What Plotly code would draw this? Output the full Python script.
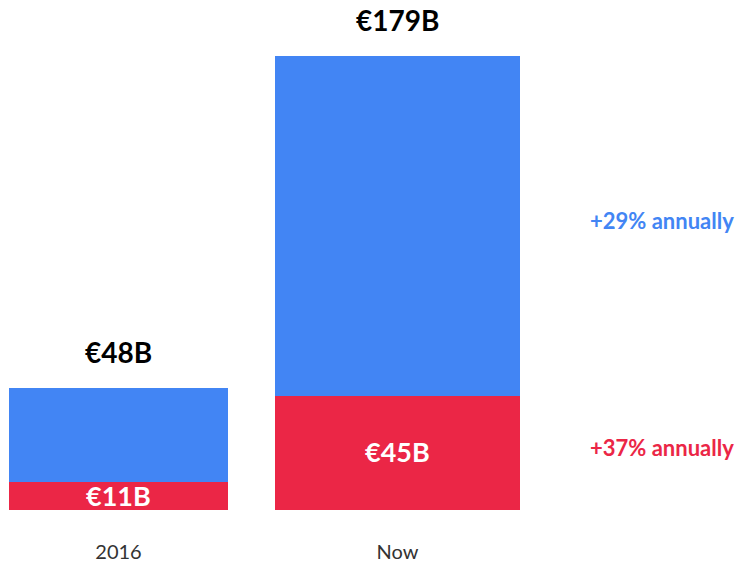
import plotly.graph_objects as go

# Data
periods = ["2016", "Now"]
red_values = [11, 45]          # €B, lower segment
blue_values = [37, 134]        # €B, upper segment (total - red)
totals = [48, 179]
growth_labels = ["+29% annually", "+37% annually"]

BLUE = "#4285F4"
RED = "#EB2646"
FONT = "Lato, 'Source Sans Pro', 'Noto Sans', sans-serif"

fig = go.Figure()

fig.add_trace(go.Bar(
    x=periods,
    y=red_values,
    width=[0.785, 0.878],
    marker={"color": RED, "line": {"width": 0}},
    hoverinfo="skip",
))
fig.add_trace(go.Bar(
    x=periods,
    y=blue_values,
    width=[0.785, 0.878],
    marker={"color": BLUE, "line": {"width": 0}},
    hoverinfo="skip",
))

# totals above bars (x given as category index so "2016" is not read as a number)
for i, t in enumerate(totals):
    fig.add_annotation(
        x=i, y=t, text=f"€{t}B", showarrow=False,
        yanchor="middle", yshift=36,
        font={"family": FONT, "size": 28, "color": "#000000", "weight": "bold"},
    )

# red segment labels
for i, r in enumerate(red_values):
    fig.add_annotation(
        x=i, y=r / 2, text=f"€{r}B", showarrow=False,
        yanchor="middle", yshift=1,
        font={"family": FONT, "size": 27, "color": "#ffffff", "weight": "bold"},
    )

# growth notes on the right, next to the "Now" segments
fig.add_annotation(
    xref="paper", x=0.997, y=red_values[1] + blue_values[1] / 2,
    text=growth_labels[0], showarrow=False, xanchor="right", yanchor="middle",
    yshift=5,
    font={"family": FONT, "size": 22, "color": BLUE, "weight": "bold"},
)
fig.add_annotation(
    xref="paper", x=0.997, y=red_values[1] / 2,
    text=growth_labels[1], showarrow=False, xanchor="right", yanchor="middle",
    yshift=5,
    font={"family": FONT, "size": 22, "color": RED, "weight": "bold"},
)

fig.update_layout(
    width=738,
    height=563,
    barmode="stack",
    showlegend=False,
    plot_bgcolor="#ffffff",
    paper_bgcolor="#ffffff",
    margin={"l": 0, "r": 0, "t": 0, "b": 51},
    font={"family": FONT},
)
fig.update_xaxes(
    type="category",
    range=[-0.4247, 2.2204],
    showgrid=False, zeroline=False, showline=False,
    ticks="", ticklabelstandoff=28,
    tickfont={"family": FONT, "size": 20, "color": "#333333"},
)
fig.update_yaxes(
    range=[0, 201],
    visible=False,
)

fig.write_html(
    "out.html",
    config={"displayModeBar": False},
    post_script="document.body.style.margin = '0';",
)
